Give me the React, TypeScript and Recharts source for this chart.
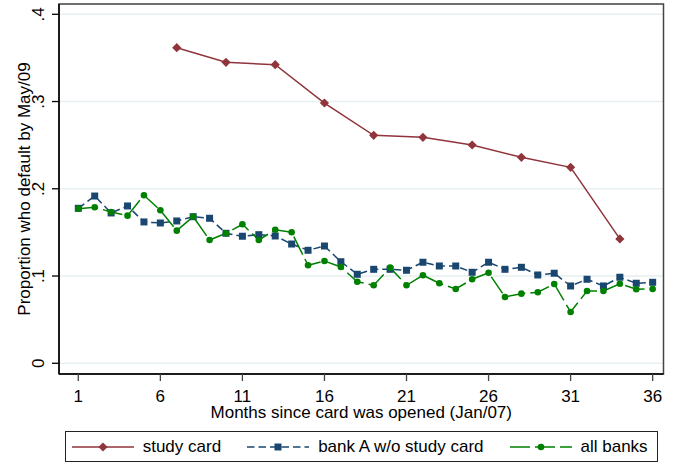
import {
  LineChart,
  Line,
  XAxis,
  YAxis,
  CartesianGrid,
  ReferenceArea,
  Legend,
} from "recharts";

const FONT = '"Liberation Sans", Arial, sans-serif';

const STUDY_MONTHS = [7, 10, 13, 16, 19, 22, 25, 28, 31, 34];
const STUDY_CARD = [
  0.3617, 0.345, 0.3422, 0.2983, 0.2613, 0.259, 0.2502, 0.2361, 0.2246, 0.1425,
];

const MONTHS = [
  1, 2, 3, 4, 5, 6, 7, 8, 9, 10, 11, 12, 13, 14, 15, 16, 17, 18, 19, 20, 21,
  22, 23, 24, 25, 26, 27, 28, 29, 30, 31, 32, 33, 34, 35, 36,
];
const BANK_A = [
  0.1776, 0.1917, 0.1723, 0.1803, 0.162, 0.1608, 0.1631, 0.168, 0.1662, 0.149,
  0.1456, 0.1474, 0.1459, 0.1367, 0.1295, 0.1344, 0.1164, 0.102, 0.1077,
  0.1077, 0.1066, 0.1158, 0.1115, 0.1115, 0.1043, 0.1158, 0.1077, 0.11, 0.1012,
  0.1032, 0.0886, 0.0963, 0.0886, 0.0986, 0.0917, 0.0928,
];
const ALL_BANKS = [
  0.1772, 0.1788, 0.1734, 0.1692, 0.1926, 0.1754, 0.152, 0.168, 0.1413, 0.149,
  0.1593, 0.1413, 0.1531, 0.1501, 0.1123, 0.1172, 0.1104, 0.0935, 0.0894,
  0.1096, 0.0894, 0.1009, 0.0917, 0.0852, 0.0963, 0.1038, 0.076, 0.0798,
  0.0814, 0.0909, 0.0588, 0.0829, 0.0829, 0.0912, 0.0848, 0.0852,
];

const X_TICKS = [1, 6, 11, 16, 21, 26, 31, 36];
const Y_TICKS = [0, 0.1, 0.2, 0.3, 0.4];
const Y_TICK_LABELS = ["0", ".1", ".2", ".3", ".4"];
const SERIES_NAMES = ["study card", "bank A w/o study card", "all banks"];

const X_DOMAIN = [-0.176, 36.66];
const Y_DOMAIN = [-0.0123, 0.4118];

const COLORS = ["#90353b", "#1a476f", "#008000"];
const DASHES = [undefined, "7.5 4", "20 5"];

const studyData = STUDY_MONTHS.map((m, i) => ({ month: m, value: STUDY_CARD[i] }));
const bankData = MONTHS.map((m, i) => ({ month: m, value: BANK_A[i] }));
const allData = MONTHS.map((m, i) => ({ month: m, value: ALL_BANKS[i] }));

const marker = (kind: number, cx: number, cy: number, key: string) => {
  if (kind === 0) {
    const r = 4.6;
    return (
      <path
        key={key}
        d={`M${cx},${cy - r}L${cx + r},${cy}L${cx},${cy + r}L${cx - r},${cy}Z`}
        fill={COLORS[0]}
      />
    );
  }
  if (kind === 1) {
    return <rect key={key} x={cx - 3.5} y={cy - 3.5} width={7} height={7} fill={COLORS[1]} />;
  }
  return <circle key={key} cx={cx} cy={cy} r={3.3} fill={COLORS[2]} />;
};

const dotFor = (kind: number) => (p: any) => {
  if (p.cx == null || p.cy == null) return <g key={`e-${kind}-${p.index}`} />;
  return marker(kind, p.cx, p.cy, `m-${kind}-${p.index}`);
};

const YTick = (props: any) => {
  const { x, y, payload } = props;
  const idx = Y_TICKS.indexOf(payload.value);
  const tx = x - 5.7;
  return (
    <text
      x={tx}
      y={y}
      transform={`rotate(-90 ${tx} ${y})`}
      textAnchor="middle"
      fontFamily={FONT}
      fontSize={17}
      fill="#000"
    >
      {idx >= 0 ? Y_TICK_LABELS[idx] : payload.value}
    </text>
  );
};

const XTitle = (props: any) => {
  const vb = props.viewBox;
  return (
    <text
      x={vb.x + vb.width / 2}
      y={vb.y + 43.7}
      textAnchor="middle"
      fontFamily={FONT}
      fontSize={17}
      fill="#000"
    >
      Months since card was opened (Jan/07)
    </text>
  );
};

const YTitle = (props: any) => {
  const vb = props.viewBox;
  const tx = vb.x + 29.5;
  const ty = vb.y + vb.height / 2;
  return (
    <text
      x={tx}
      y={ty}
      transform={`rotate(-90 ${tx} ${ty})`}
      textAnchor="middle"
      fontFamily={FONT}
      fontSize={17}
      fill="#000"
    >
      Proportion who default by May/09
    </text>
  );
};

const renderLegend = () => (
  <div
    style={{
      boxSizing: "border-box",
      width: 593,
      height: 31,
      border: "1.3px solid #222",
      display: "flex",
      alignItems: "center",
      paddingLeft: 5.7,
      fontFamily: FONT,
      fontSize: 17,
      color: "#000",
      background: "#fff",
      whiteSpace: "nowrap",
    }}
  >
    {SERIES_NAMES.map((name, i) => (
      <div key={name} style={{ display: "flex", alignItems: "center", marginRight: 26 }}>
        <svg width={62} height={12} style={{ display: "block" }}>
          <line
            x1={0}
            y1={6}
            x2={62}
            y2={6}
            stroke={COLORS[i]}
            strokeWidth={1.5}
            strokeDasharray={DASHES[i]}
          />
          {marker(i, 31, 6, `lg-${i}`)}
        </svg>
        <span style={{ marginLeft: 9 }}>{name}</span>
      </div>
    ))}
  </div>
);

export default function App() {
  return (
    <div style={{ position: "absolute", left: 0, top: 0, background: "#fff" }}>
      <LineChart
        width={674}
        height={465}
        margin={{ top: 4, right: 10.5, left: 0, bottom: 41 }}
        style={{ fontFamily: FONT }}
      >
        <CartesianGrid vertical={false} stroke="#e6eff1" strokeWidth={1.5} />
        <XAxis
          type="number"
          dataKey="month"
          domain={X_DOMAIN}
          ticks={X_TICKS}
          allowDataOverflow
          height={50}
          tickSize={7}
          tickMargin={8.5}
          tick={{ fill: "#000", fontSize: 17, fontFamily: FONT }}
          tickLine={{ stroke: "#444", strokeWidth: 1.3 }}
          axisLine={{ stroke: "#000", strokeWidth: 1.5 }}
          label={{ content: XTitle }}
        />
        <YAxis
          type="number"
          domain={Y_DOMAIN}
          ticks={Y_TICKS}
          allowDataOverflow
          width={59}
          tickSize={7}
          tickMargin={2}
          tick={YTick}
          tickLine={{ stroke: "#000", strokeWidth: 1.3 }}
          axisLine={{ stroke: "#000", strokeWidth: 1.5 }}
          label={{ content: YTitle }}
        />
        <ReferenceArea
          x1={X_DOMAIN[0]}
          x2={X_DOMAIN[1]}
          y1={Y_DOMAIN[0]}
          y2={Y_DOMAIN[1]}
          ifOverflow="visible"
          fill="none"
          stroke="#444"
          strokeWidth={1.5}
        />
        <Line
          data={studyData}
          dataKey="value"
          name={SERIES_NAMES[0]}
          stroke={COLORS[0]}
          strokeWidth={1.5}
          dot={dotFor(0)}
          activeDot={false}
          isAnimationActive={false}
        />
        <Line
          data={bankData}
          dataKey="value"
          name={SERIES_NAMES[1]}
          stroke={COLORS[1]}
          strokeWidth={1.5}
          strokeDasharray={DASHES[1]}
          dot={dotFor(1)}
          activeDot={false}
          isAnimationActive={false}
        />
        <Line
          data={allData}
          dataKey="value"
          name={SERIES_NAMES[2]}
          stroke={COLORS[2]}
          strokeWidth={1.5}
          strokeDasharray={DASHES[2]}
          dot={dotFor(2)}
          activeDot={false}
          isAnimationActive={false}
        />
        <Legend
          layout="horizontal"
          align="center"
          verticalAlign="middle"
          wrapperStyle={{ left: 65, top: 431, width: 593, height: 31 }}
          content={renderLegend}
        />
      </LineChart>
    </div>
  );
}
